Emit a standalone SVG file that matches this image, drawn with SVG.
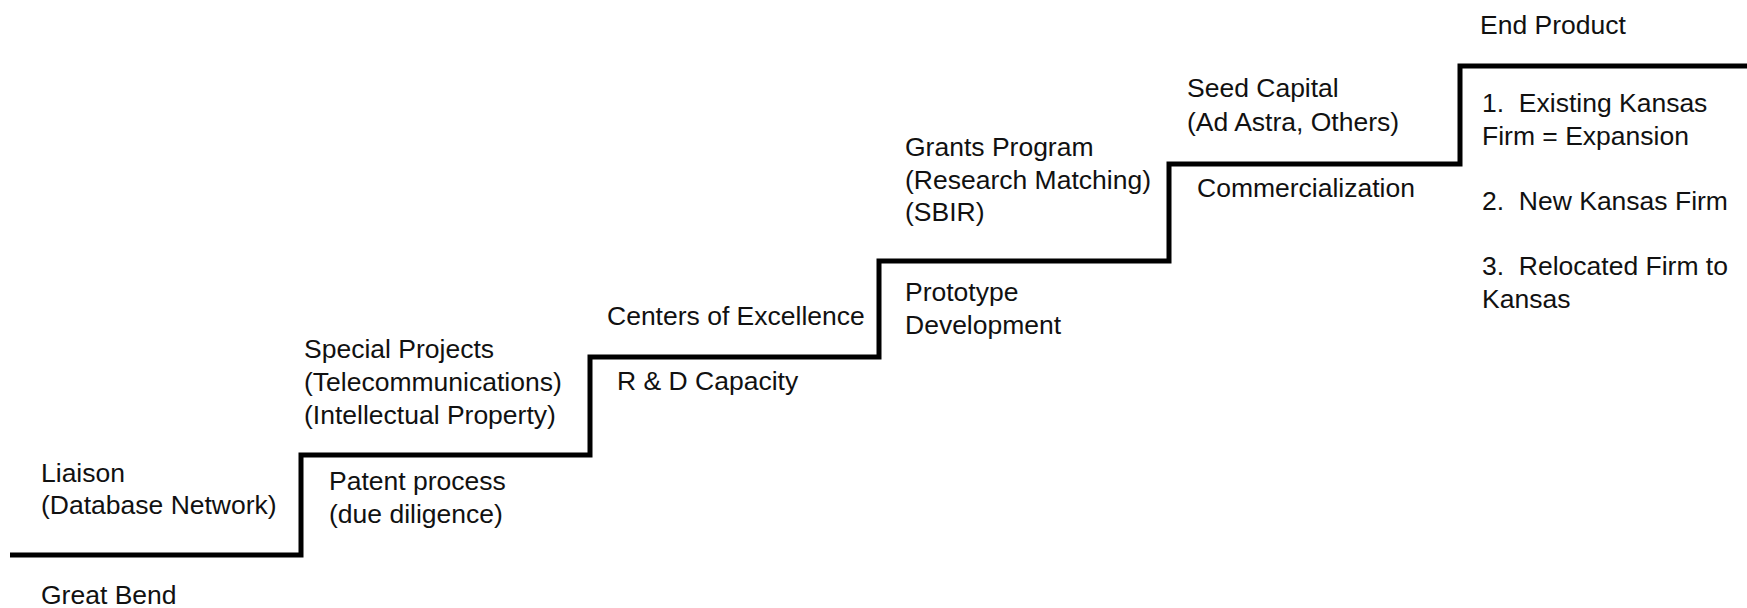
<svg xmlns="http://www.w3.org/2000/svg" width="1747" height="608" viewBox="0 0 1747 608">
<style>
text{font-family:"Liberation Sans",Arial,Helvetica,sans-serif;font-size:26.5px;fill:#111;white-space:pre}
.stair{fill:none;stroke:#000;stroke-width:5;stroke-linejoin:miter}
</style>
<rect width="1747" height="608" fill="#fff"/>
<g id="connectors">
<path class="stair" d="M10,555 H301 V455 H590 V357 H879 V261 H1169 V164 H1460 V66 H1747"/>
</g>
<g id="liaison"><text x="41" y="482">Liaison</text><text x="41" y="514">(Database Network)</text></g>
<g id="great-bend"><text x="41" y="604">Great Bend</text></g>
<g id="patent"><text x="329" y="490">Patent process</text><text x="329" y="523">(due diligence)</text></g>
<g id="special-projects"><text x="304" y="358">Special Projects</text><text x="304" y="391">(Telecommunications)</text><text x="304" y="424">(Intellectual Property)</text></g>
<g id="rd"><text x="617" y="390">R &amp; D Capacity</text></g>
<g id="centers"><text x="607" y="325">Centers of Excellence</text></g>
<g id="prototype"><text x="905" y="301">Prototype</text><text x="905" y="334">Development</text></g>
<g id="grants"><text x="905" y="156">Grants Program</text><text x="905" y="189">(Research Matching)</text><text x="905" y="221">(SBIR)</text></g>
<g id="commercialization"><text x="1197" y="197">Commercialization</text></g>
<g id="seed"><text x="1187" y="97">Seed Capital</text><text x="1187" y="131">(Ad Astra, Others)</text></g>
<g id="end-product"><text x="1480" y="34">End Product</text></g>
<g id="outcomes">
<text x="1482" y="112">1.  Existing Kansas</text>
<text x="1482" y="145">Firm = Expansion</text>
<text x="1482" y="210">2.  New Kansas Firm</text>
<text x="1482" y="275">3.  Relocated Firm to</text>
<text x="1482" y="308">Kansas</text>
</g>
</svg>
